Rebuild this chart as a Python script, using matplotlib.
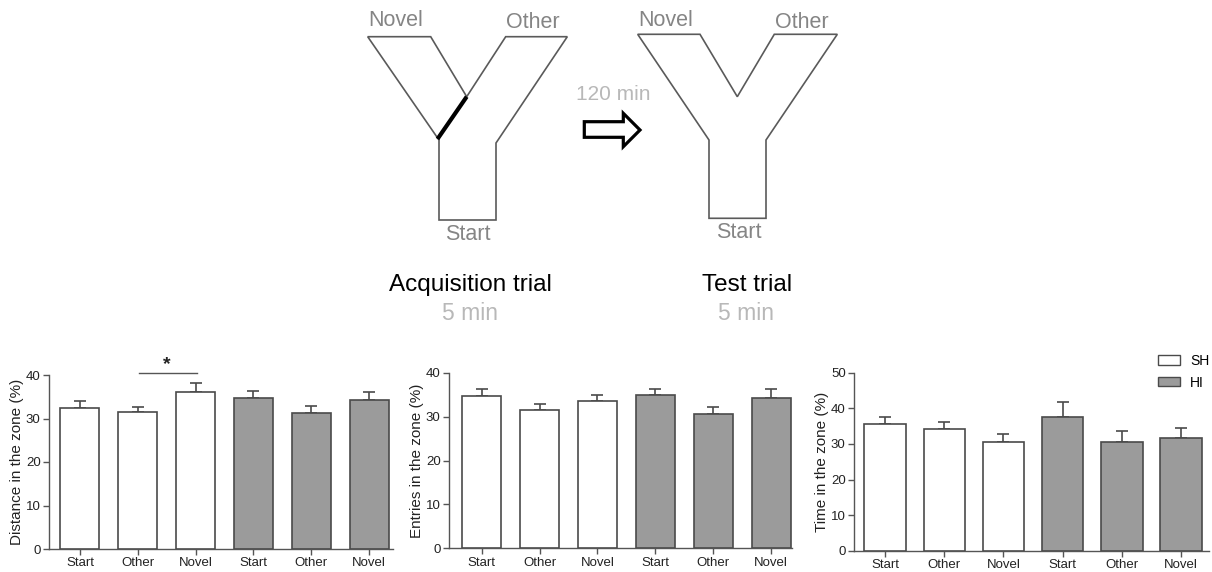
import matplotlib
matplotlib.use("Agg")
import matplotlib.pyplot as plt
import numpy as np
from matplotlib.patches import Polygon, Patch

plt.rcParams['font.family'] = ['Liberation Sans', 'DejaVu Sans']

# ---------------- data ----------------
categories = ["Start", "Other", "Novel", "Start", "Other", "Novel"]
groups = ["SH", "SH", "SH", "HI", "HI", "HI"]

distance_mean = [32.5, 31.6, 36.2, 34.6, 31.3, 34.3]
distance_sem = [1.5, 1.1, 1.9, 1.7, 1.6, 1.8]

entries_mean = [34.8, 31.5, 33.6, 34.9, 30.6, 34.3]
entries_sem = [1.6, 1.4, 1.4, 1.3, 1.7, 1.9]

time_mean = [35.5, 34.2, 30.4, 37.6, 30.5, 31.7]
time_sem = [2.0, 1.9, 2.3, 4.3, 3.2, 2.8]

ylabels = ["Distance in the zone (%)", "Entries in the zone (%)", "Time in the zone (%)"]
ymax = [40, 40, 50]

W, H = 1212, 572
fig = plt.figure(figsize=(W / 100, H / 100), dpi=100)

# ---------------- diagram (pixel coordinates) ----------------
dax = fig.add_axes([0, 0, 1, 1])
dax.set_xlim(0, W)
dax.set_ylim(H, 0)
dax.axis("off")

ycol = "#5a5a5a"
acq_maze = [(367.7, 36.7), (430.7, 36.7), (466.7, 96.7), (505.7, 36.7), (567.3, 36.7),
            (496, 143), (496, 220), (439, 220), (439, 140)]
test_maze = [(637.7, 34.3), (700, 34.3), (737.3, 96.7), (774.3, 34.3), (837.3, 34.3),
             (766, 140), (766, 218.3), (709, 218.3), (709, 140)]
for pts in (acq_maze, test_maze):
    dax.add_patch(Polygon(pts, closed=True, fill=False, edgecolor=ycol, lw=1.2))
# barrier on the novel arm during acquisition
dax.plot([466.7, 437.5], [96.7, 139.0], color="black", lw=3, solid_capstyle="butt")

# arrow
arrow = [(584.3, 121.7), (623.3, 121.7), (623.3, 113.3), (640, 130), (623.3, 146.7),
         (623.3, 137.3), (584.3, 137.3)]
dax.add_patch(Polygon(arrow, closed=True, fill=False, edgecolor="black", lw=2.3, joinstyle="miter"))

lab_col = "#858585"
light = "#b8b8b8"
fs_lab = 15.5
dax.text(396, 21, "Novel", color=lab_col, fontsize=fs_lab, ha="center", va="center")
dax.text(533, 23, "Other", color=lab_col, fontsize=fs_lab, ha="center", va="center")
dax.text(468, 234, "Start", color=lab_col, fontsize=fs_lab, ha="center", va="center")
dax.text(666, 21, "Novel", color=lab_col, fontsize=fs_lab, ha="center", va="center")
dax.text(802, 23, "Other", color=lab_col, fontsize=fs_lab, ha="center", va="center")
dax.text(739, 232, "Start", color=lab_col, fontsize=fs_lab, ha="center", va="center")
dax.text(613, 95, "120 min", color=light, fontsize=15, ha="center", va="center")
dax.text(470, 285, "Acquisition trial", color="black", fontsize=17.5, ha="center", va="center")
dax.text(470, 314, "5 min", color=light, fontsize=16.5, ha="center", va="center")
dax.text(747, 285, "Test trial", color="black", fontsize=17.5, ha="center", va="center")
dax.text(746, 314, "5 min", color=light, fontsize=16.5, ha="center", va="center")

# ---------------- bar charts ----------------
boxes = [
    (49, 393, 549, 375, (-0.536, 5.415), 0.675),
    (449, 792, 548.3, 372.7, (-0.565, 5.36), 0.67),
    (854, 1209, 550.7, 372.7, (-0.524, 5.47), 0.70),
]
means = [distance_mean, entries_mean, time_mean]
sems = [distance_sem, entries_sem, time_sem]

fill = {"SH": "white", "HI": "#9b9b9b"}
edge = "#4a4a4a"
spine_col = "#555555"
axes = []
for i, (l, r, y0, y1, xl, bw) in enumerate(boxes):
    ax = fig.add_axes([l / W, (H - y0) / H, (r - l) / W, (y0 - y1) / H])
    ax.patch.set_alpha(0)
    x = np.arange(len(categories))
    colors = [fill[g] for g in groups]
    ax.bar(x, means[i], width=bw, color=colors, edgecolor=edge, linewidth=1.2, zorder=3)
    ax.errorbar(x, means[i], yerr=[np.zeros(len(x)), sems[i]], fmt="none",
                ecolor=edge, elinewidth=1.2, capsize=4.3, capthick=1.2, zorder=2)
    ax.set_xlim(*xl)
    ax.set_ylim(0, ymax[i])
    ax.set_yticks(np.arange(0, ymax[i] + 1, 10))
    ax.set_xticks(x)
    ax.set_xticklabels(categories)
    for s in ("top", "right"):
        ax.spines[s].set_visible(False)
    for s in ("left", "bottom"):
        ax.spines[s].set_color(spine_col)
        ax.spines[s].set_linewidth(1.0)
    ax.tick_params(axis="both", colors=spine_col, labelcolor="#222222", labelsize=9.5,
                   length=4, width=1.0, pad=2)
    ax.set_ylabel(ylabels[i], fontsize=11, color="#222222", labelpad=1.5)
    axes.append(ax)

# significance bar on the first chart
ax0 = axes[0]
ax0.plot([1.02, 2.02], [40.4, 40.4], color=spine_col, lw=1.0, clip_on=False)
ax0.text(1.5, 42.3, "*", ha="center", va="center", fontsize=14, color="#222222",
         fontweight="bold")

# legend on the third chart
handles = [Patch(facecolor=fill["SH"], edgecolor=edge, label="SH"),
           Patch(facecolor=fill["HI"], edgecolor=edge, label="HI")]
fig.legend(handles=handles, loc="upper left", bbox_to_anchor=(1158 / W, 1 - 354 / H),
           frameon=False, fontsize=10, handlelength=1.6, handleheight=0.65,
           handletextpad=0.7, labelspacing=0.55, borderaxespad=0, borderpad=0)

fig.savefig("out.png", dpi=100)
